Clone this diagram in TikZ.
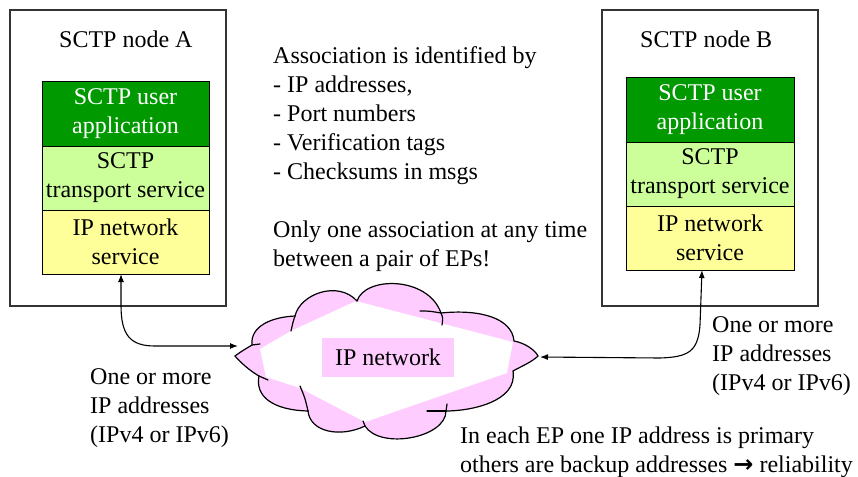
\documentclass[tikz,border=0pt]{standalone}
\usepackage{fontspec}
\setmainfont{Liberation Serif}
\newfontfamily\symfont{DejaVu Sans}
\usetikzlibrary{arrows.meta}
\definecolor{dgreen}{HTML}{009900}
\definecolor{lgreen}{HTML}{CCFF99}
\definecolor{lyellow}{HTML}{FFFF99}
\definecolor{lpink}{HTML}{FFCCFF}
\begin{document}
\begin{tikzpicture}[x=1pt,y=-1pt,
  font=\fontsize{24}{29}\selectfont,
  outer/.style={draw=black!80, line width=1.2pt, inner sep=0pt},
  layer/.style={draw=black, line width=1pt, minimum width=167pt, minimum height=64pt, align=center, inner sep=0pt},
  txt/.style={anchor=base west, inner sep=0pt, align=left},
  link/.style={line width=1.1pt, {Latex[length=8pt,width=6pt]}-{Latex[length=8pt,width=6pt]}},
  cloudline/.style={line width=1.2pt, line cap=round}]
\useasboundingbox (0,0) rectangle (858,476);
\fill[white] (0,0) rectangle (858,476);

% node A
\node[outer, minimum width=216pt, minimum height=296pt] (boxA) at (118,158) {};
\node[txt] (titleA) at (59,48) {SCTP node A};
\node[layer, fill=dgreen, text=white] (appA) at (125.5,114) {SCTP user\\application};
\node[layer, fill=lgreen] (tspA) at (125.5,178) {SCTP\\transport service};
\node[layer, fill=lyellow] (ipA) at (125.5,242) {IP network\\service};

% node B
\node[outer, minimum width=216pt, minimum height=296pt] (boxB) at (710,158) {};
\node[txt] (titleB) at (640,48) {SCTP node B};
\node[layer, fill=dgreen, text=white, minimum width=168pt] (appB) at (710,110) {SCTP user\\application};
\node[layer, fill=lgreen, minimum width=168pt] (tspB) at (710,174) {SCTP\\transport service};
\node[layer, fill=lyellow, minimum width=168pt] (ipB) at (710,238) {IP network\\service};

% centre text (anchor = baseline of last line)
\node[txt] (assoc) at (273,266) {Association is identified by\\- IP addresses,\\- Port numbers\\- Verification tags\\- Checksums in msgs\\[29pt]Only one association at any time\\between a pair of EPs!};

% cloud
\def\cloudpath{(235,356) .. controls (243,350) and (249,347) .. (252,345)
 .. controls (250,326) and (272,317) .. (295,316)
 .. controls (300,294) and (338,280) .. (357,301)
 .. controls (365,276) and (428,276) .. (441,313)
 .. controls (480,309) and (512,318) .. (514,341)
 .. controls (525,343) and (535,350) .. (538,356)
 .. controls (532,362) and (520,367) .. (513,371)
 .. controls (518,402) and (470,411) .. (446,411)
 .. controls (446,438) and (380,450) .. (365,426)
 .. controls (340,438) and (310,432) .. (308,411)
 .. controls (272,410) and (255,396) .. (259,376)
 .. controls (250,371) and (240,362) .. (235,356) -- cycle}
\fill[lpink] \cloudpath;
\fill[white] (260,349) -- (291,331) -- (356,301) -- (513,342) -- (507,373) -- (365,422) -- (300,388) -- (266,377) -- cycle;
\draw[cloudline] \cloudpath;
\draw[cloudline] (252,345) -- (260,344);
\draw[cloudline] (295,316) .. controls (293,322) .. (291,331);
\draw[cloudline] (441,313) .. controls (429,311) .. (420,311);
\draw[cloudline] (441,313) .. controls (443,318) .. (442,325);
\draw[cloudline] (446,411) -- (427,411);
\draw[cloudline] (446,411) -- (447,404);
\draw[cloudline] (308,411) .. controls (305,398) .. (300,386);
\draw[cloudline] (259,376) -- (268,380);
\draw[cloudline] (365,426) -- (363,421);
\node[fill=lpink, minimum width=132pt, minimum height=39pt, inner sep=0pt] (ipnet) at (388,357.5) {IP network};

% connectors
\coordinate (pA) at (121,274);
\coordinate (pB) at (702,270);
\coordinate (cL) at (238,346);
\coordinate (cR) at (540,357);
\draw[link] (pA) -- (121,305) .. controls (121,335) and (130,346) .. (155,346) -- (cL);
\draw[link] (pB) -- (700,325) .. controls (698,352) and (688,357) .. (660,358) -- (cR);

% labels (anchor = baseline of last line)
\node[txt] (addrA) at (90,442) {One or more\\IP addresses\\(IPv4 or IPv6)};
\node[txt] (addrB) at (712,390) {One or more\\IP addresses\\(IPv4 or IPv6)};
\node[txt] (note) at (460,472) {In each EP one IP address is primary\\others are backup addresses {\symfont\bfseries →} reliability};
\end{tikzpicture}
\end{document}
